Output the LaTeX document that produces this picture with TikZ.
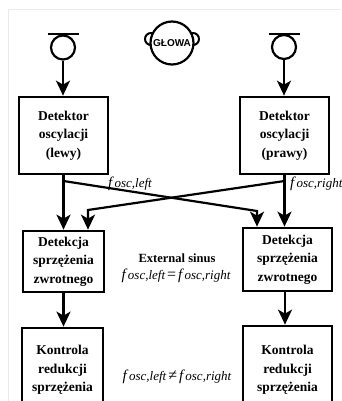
\documentclass[tikz,border=0pt]{standalone}
\usepackage{fontspec}
\setmainfont{Liberation Serif}
\newfontfamily\headfont{Liberation Sans}
\usetikzlibrary{arrows.meta,calc}
\newcommand\fq[1]{{\fontsize{15}{15}\selectfont\itshape f}\kern2.2pt{\fontsize{13}{13}\selectfont\itshape #1}}
\begin{document}
\begin{tikzpicture}[x=1pt,y=-1pt,
  box/.style={draw, line width=2.7pt, inner sep=0pt, align=center, font=\fontsize{13.5}{18.5}\selectfont\bfseries},
  arr/.style={line width=2.2pt, -{Stealth[length=15pt,width=14pt,inset=4pt]}},
  ln/.style={line width=2.2pt},
  lbl/.style={inner sep=0pt},
  mic/.style={circle, draw, line width=2.2pt, minimum size=24pt, inner sep=0pt}]
\useasboundingbox (0,0) rectangle (341,401);
\clip (0,0) rectangle (341,401);
\draw[black!8, line width=0.8pt] (8,401) -- (8,9) -- (341,9);

% head
\draw[line width=2pt] (151,39) circle (6);
\draw[line width=2pt] (193,39) circle (6);
\node[circle, draw, fill=white, line width=2.2pt, minimum size=43pt, inner sep=0pt,
      font=\headfont\fontsize{10}{10}\bfseries\selectfont] (head) at (172,43) {GŁOWA};

% microphones
\node[mic] (mL) at (63,47.5) {};
\node[mic] (mR) at (284,47) {};
\draw[ln] ($(mL.north)+(-15.5,0)$) -- ($(mL.north)+(15.5,0)$);
\draw[ln] ($(mR.north)+(-15.5,0)$) -- ($(mR.north)+(15.5,0)$);

% boxes
\node[box, minimum width=89pt, minimum height=77pt] (dL) at (63.5,135.5) {Detektor\\oscylacji\\(lewy)};
\node[box, minimum width=89pt, minimum height=77pt] (dR) at (284.5,135.5) {Detektor\\oscylacji\\(prawy)};
\node[box, minimum width=81pt, minimum height=61pt] (sL) at (63.5,261.5) {Detekcja\\sprzężenia\\zwrotnego};
\node[box, minimum width=89pt, minimum height=63pt] (sR) at (287.5,259.5) {Detekcja\\sprzężenia\\zwrotnego};
\node[box, minimum width=81pt, minimum height=84pt] (kL) at (62.5,370) {Kontrola\\redukcji\\sprzężenia};
\node[box, minimum width=89pt, minimum height=88pt] (kR) at (287.5,370) {Kontrola\\redukcji\\sprzężenia};

% arrows
\draw[arr] (mL.south) -- (mL.south |- dL.north);
\draw[arr] (mR.south) -- (mR.south |- dR.north);
\draw[arr] (dL.south) -- (dL.south |- sL.north);
\draw[arr] (dR.south) -- (dR.south |- sR.north);
\draw[arr] (sL.south) -- (sL.south |- kL.north);
\draw[arr] ($(sR.south)+(-2.5,0)$) -- ($(sR.south |- kR.north)+(-2.5,0)$);

\coordinate (xl) at (63.5,181);
\coordinate (bl) at (257,211);
\coordinate (xr) at (284.5,181);
\coordinate (br) at (88,210);
\draw[arr] (xl) -- (bl) -- (bl |- sR.north);
\draw[arr] (xr) -- (br) -- (br |- sL.north);

% labels
\node[lbl, anchor=base west] (lf) at (108,187) {\fq{osc,left}};
\node[lbl, anchor=base west] (rf) at (290,187) {\fq{osc,right}};
\node[lbl, font=\fontsize{12.5}{14}\selectfont\bfseries] (ext) at (177,258) {External sinus};
\node[lbl] (eq) at (176,276) {\fq{osc,left}\kern2pt{\fontsize{16}{16}\selectfont =}\kern2pt\fq{osc,right}};
\node[lbl] (ne) at (177,377) {\fq{osc,left}\kern2pt{\fontsize{16}{16}\selectfont ≠}\kern2pt\fq{osc,right}};
\end{tikzpicture}
\end{document}
